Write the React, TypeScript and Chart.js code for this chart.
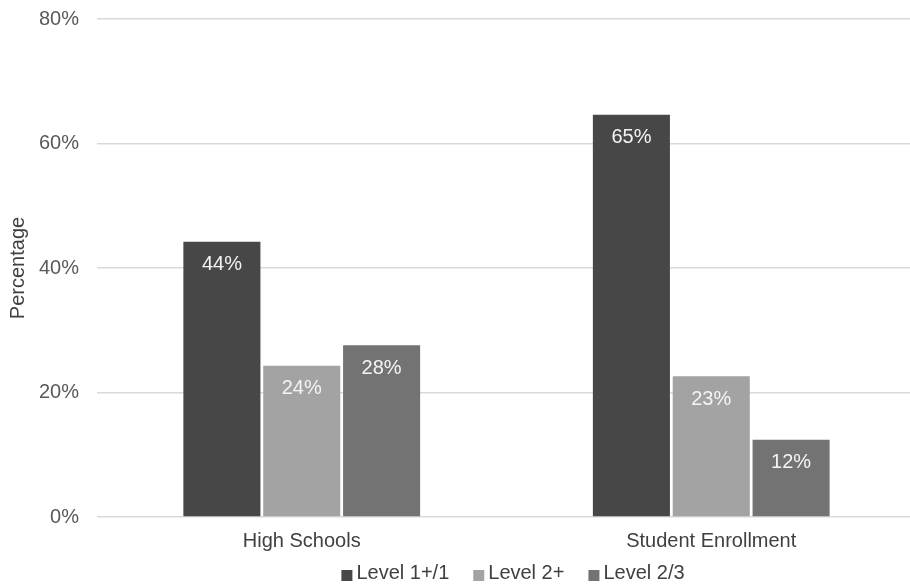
import React, { useEffect, useRef } from 'react';
import { Chart, registerables } from 'chart.js';

Chart.register(...registerables);

const categories = ['High Schools', 'Student Enrollment'];
const seriesNames = ['Level 1+/1', 'Level 2+', 'Level 2/3'];
const level1 = [44.2, 64.6];
const level2 = [24.3, 22.6];
const level3 = [27.6, 12.4];
const seriesColors = ['#474747', '#a3a3a3', '#737373'];
const yMin = 0;
const yMax = 80;
const yStep = 20;

const FONT = '"Liberation Sans", Arial, Helvetica, sans-serif';
const SHIFT = 11;

const valueLabels = {
  id: 'valueLabels',
  afterDatasetsDraw(chart: any) {
    const ctx = chart.ctx;
    ctx.save();
    ctx.font = `20px ${FONT}`;
    ctx.fillStyle = '#f4f4f4';
    ctx.textAlign = 'center';
    ctx.textBaseline = 'middle';
    chart.data.datasets.forEach((ds: any, i: number) => {
      const meta = chart.getDatasetMeta(i);
      meta.data.forEach((bar: any, j: number) => {
        const v = ds.data[j] as number;
        ctx.fillText(Math.round(v) + '%', bar.x, bar.y + 23);
      });
    });
    ctx.restore();
  },
};

const bottomLegend = {
  id: 'bottomLegend',
  afterDraw(chart: any) {
    const ctx = chart.ctx;
    ctx.save();
    ctx.font = `20px ${FONT}`;
    ctx.textBaseline = 'middle';
    ctx.textAlign = 'left';
    const box = 11;
    const gap = 4;
    const spacing = 24;
    const items = chart.data.datasets.map((ds: any) => ({
      label: ds.label as string,
      color: ds.backgroundColor as string,
      w: ctx.measureText(ds.label).width,
    }));
    const total = items.reduce((s: number, it: any) => s + box + gap + it.w, 0) + spacing * (items.length - 1);
    let x = 513 - total / 2;
    const y = chart.height - 15;
    items.forEach((it: any) => {
      ctx.fillStyle = it.color;
      ctx.fillRect(x, y - 3, box, box);
      x += box + gap;
      ctx.fillStyle = '#404040';
      ctx.fillText(it.label, x, y);
      x += it.w + spacing;
    });
    ctx.restore();
  },
};

export default function App() {
  const ref = useRef<HTMLCanvasElement>(null);
  useEffect(() => {
    document.body.style.margin = '0';
    const canvas = ref.current!;
    const chart = new Chart(canvas, {
      type: 'bar',
      data: {
        labels: categories,
        datasets: [level1, level2, level3].map((d, i) => ({
          label: seriesNames[i],
          data: d,
          backgroundColor: seriesColors[i],
          borderWidth: 0,
          categoryPercentage: 0.585,
          barPercentage: 0.965,
        })),
      },
      options: {
        responsive: false,
        animation: false,
        devicePixelRatio: 1,
        layout: { padding: { top: 0, left: 6, right: 0, bottom: 31 } },
        plugins: {
          tooltip: { enabled: false },
          legend: { display: false },
        },
        scales: {
          x: {
            grid: { display: false },
            border: { display: false },
            ticks: { color: '#404040', font: { size: 20, family: FONT }, padding: 4 },
          },
          y: {
            min: yMin,
            max: yMax,
            grid: { color: '#d9d9d9', lineWidth: 1.5, drawTicks: false },
            border: { display: false },
            afterFit: (scale: any) => { scale.width = 91; },
            ticks: {
              stepSize: yStep,
              color: '#595959',
              padding: 18,
              font: { size: 20, family: FONT },
              callback: (v: any) => v + '%',
            },
            title: {
              display: true,
              text: 'Percentage',
              color: '#404040',
              font: { size: 20, family: FONT },
              padding: { top: 0, bottom: 0 },
            },
          },
        },
      },
      plugins: [valueLabels, bottomLegend],
    });
    return () => chart.destroy();
  }, []);
  return (
    <div style={{ width: 910, height: 588, overflow: 'hidden', position: 'relative', background: '#fff' }}>
      <canvas ref={ref} width={916} height={588 + SHIFT} style={{ display: 'block', position: 'absolute', left: 0, top: -SHIFT }} />
    </div>
  );
}
